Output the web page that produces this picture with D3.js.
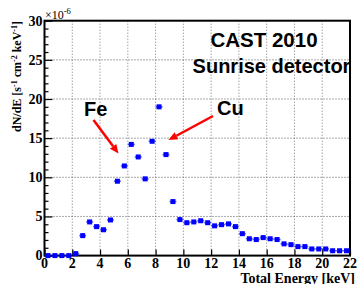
<!DOCTYPE html>
<html><head><meta charset="utf-8">
<script src="https://cdn.jsdelivr.net/npm/d3@7"></script>
<style>body{margin:0;background:#fff}svg{display:block}</style>
</head><body>
<svg id="c" width="357" height="284"></svg>
<script>
// Bin centres [keV] and rates [x1e-6 counts s^-1 cm^-2 keV^-1]
const energy = [0.25,0.75,1.25,1.75,2.25,2.75,3.25,3.75,4.25,4.75,5.25,5.75,6.25,6.75,7.25,7.75,8.25,8.75,9.25,9.75,
  10.25,10.75,11.25,11.75,12.25,12.75,13.25,13.75,14.25,14.75,15.25,15.75,16.25,16.75,17.25,17.75,18.25,18.75,19.25,19.75,
  20.25,20.75,21.25,21.75];
const rate = [0,0,0,0,0.25,2.55,4.3,3.7,3.3,4.55,9.5,11.45,14.2,12.6,9.8,14.6,19.0,12.9,6.9,4.6,
  4.2,4.3,4.45,4.2,3.8,3.95,4.05,3.7,2.8,2.15,2.05,2.3,2.15,2.05,1.5,1.4,1.15,1.15,0.85,0.85,
  0.85,0.62,0.62,0.62];
const binHalfWidth = 0.25;
const xTicks = [0,2,4,6,8,10,12,14,16,18,20,22];
const yTicks = [0,5,10,15,20,25,30];
const titleLines = ["CAST 2010","Sunrise detector"];
const labels = [{text:"Fe"},{text:"Cu"}];

const svg = d3.select("#c");
const L=44.5, R=350, T=20.7, B=255.6;
const x = d3.scaleLinear().domain([0,22]).range([L,R]);
const y = d3.scaleLinear().domain([0,30]).range([B,T]);
const serif = "'Liberation Serif','Times New Roman',serif";
const sans = "'Liberation Sans',Arial,Helvetica,sans-serif";

// grid
const g = svg.append("g");
g.selectAll(".vg").data(xTicks.filter(d=>d>0&&d<22)).join("line")
  .attr("x1",d=>x(d)).attr("x2",d=>x(d)).attr("y1",T).attr("y2",B)
  .attr("stroke","#777").attr("stroke-width",1).attr("stroke-dasharray","1,2");
g.selectAll(".hg").data(yTicks.filter(d=>d>0&&d<30)).join("line")
  .attr("y1",d=>y(d)).attr("y2",d=>y(d)).attr("x1",L).attr("x2",R)
  .attr("stroke","#555").attr("stroke-width",1).attr("stroke-dasharray","1,2");

// axes with inward ticks
const yAxis = d3.axisRight(y).tickValues(d3.range(0,31,1)).tickSize(4).tickFormat("");
const ya = svg.append("g").attr("transform",`translate(${L},0)`).call(yAxis);
ya.select(".domain").remove();
ya.selectAll(".tick line").attr("x2",d=>d%5===0?8:4).attr("stroke","#000").attr("stroke-width",1.2);
const xAxis = d3.axisTop(x).tickValues(xTicks).tickSize(6).tickFormat("");
const xa = svg.append("g").attr("transform",`translate(0,${B})`).call(xAxis);
xa.select(".domain").remove();
xa.selectAll(".tick line").attr("stroke","#000").attr("stroke-width",1.2);

// tick labels
svg.append("g").selectAll("text").data(yTicks).join("text")
  .attr("x",42.5).attr("y",d=>y(d)+4.8).attr("text-anchor","end")
  .attr("font-family",serif).attr("font-weight","bold").attr("font-size",14).text(d=>d);
svg.append("g").selectAll("text").data(xTicks).join("text")
  .attr("x",d=>x(d)).attr("y",267.5).attr("text-anchor","middle")
  .attr("font-family",serif).attr("font-weight","bold").attr("font-size",14).text(d=>d);

// frame
svg.append("rect").attr("x",L).attr("y",T).attr("width",R-L).attr("height",B-T)
  .attr("fill","none").attr("stroke","#000").attr("stroke-width",2);

// exponent
const ex = svg.append("text").attr("x",45).attr("y",18.5)
  .attr("font-family",serif).attr("font-size",12);
ex.append("tspan").text("\u00d710");
ex.append("tspan").attr("font-size",8.5).attr("dy",-5).text("-6");

// axis titles
svg.append("text").attr("x",355).attr("y",282.5).attr("text-anchor","end")
  .attr("font-family",serif).attr("font-weight","bold").attr("font-size",14).text("Total Energy [keV]");
const yt = svg.append("text").attr("transform","translate(20.5,21) rotate(-90)").attr("text-anchor","end")
  .attr("font-family",serif).attr("font-weight","bold").attr("font-size",12);
yt.append("tspan").text("dN/dE  [s");
yt.append("tspan").attr("font-size",8).attr("dy",-4).text("-1");
yt.append("tspan").attr("dy",4).text(" cm");
yt.append("tspan").attr("font-size",8).attr("dy",-4).text("-2");
yt.append("tspan").attr("dy",4).text(" keV");
yt.append("tspan").attr("font-size",8).attr("dy",-4).text("-1");
yt.append("tspan").attr("dy",4).text("]");

// data: error bars + markers
const pts = energy.map((e,i)=>({e,v:rate[i]}));
svg.append("g").selectAll("line").data(pts).join("line")
  .attr("x1",d=>x(d.e-binHalfWidth)).attr("x2",d=>x(d.e+binHalfWidth))
  .attr("y1",d=>y(d.v)).attr("y2",d=>y(d.v))
  .attr("stroke","#0000ff").attr("stroke-opacity",0.6).attr("stroke-width",1.6);
svg.append("g").selectAll("rect").data(pts).join("rect")
  .attr("x",d=>x(d.e)-2.5).attr("y",d=>y(d.v)-2.5).attr("width",5).attr("height",5)
  .attr("fill","#0000ff");

// title
svg.append("text").attr("x",264).attr("y",46.7).attr("text-anchor","middle")
  .attr("font-family",sans).attr("font-weight","bold").attr("font-size",20.5).text(titleLines[0]);
svg.append("text").attr("x",271.5).attr("y",73).attr("text-anchor","middle")
  .attr("font-family",sans).attr("font-weight","bold").attr("font-size",20).text(titleLines[1]);

// labels and arrows
svg.append("text").attr("x",84).attr("y",116).attr("font-family",sans).attr("font-weight","bold")
  .attr("font-size",20).text(labels[0].text);
svg.append("text").attr("x",217).attr("y",115).attr("font-family",sans).attr("font-weight","bold")
  .attr("font-size",20).text(labels[1].text);
function arrow(x1,y1,x2,y2){
  const a=Math.atan2(y2-y1,x2-x1), len=9, w=4;
  const bx=x2-len*Math.cos(a), by=y2-len*Math.sin(a);
  svg.append("line").attr("x1",x1).attr("y1",y1).attr("x2",bx).attr("y2",by)
    .attr("stroke","#ff0000").attr("stroke-width",2.5);
  const px=-Math.sin(a)*w, py=Math.cos(a)*w;
  svg.append("path").attr("d",`M${x2},${y2}L${bx+px},${by+py}L${bx-px},${by-py}Z`).attr("fill","#ff0000");
}
arrow(93.5,120,118.5,153.5);
arrow(213,116,168.5,140);
</script>
</body></html>
